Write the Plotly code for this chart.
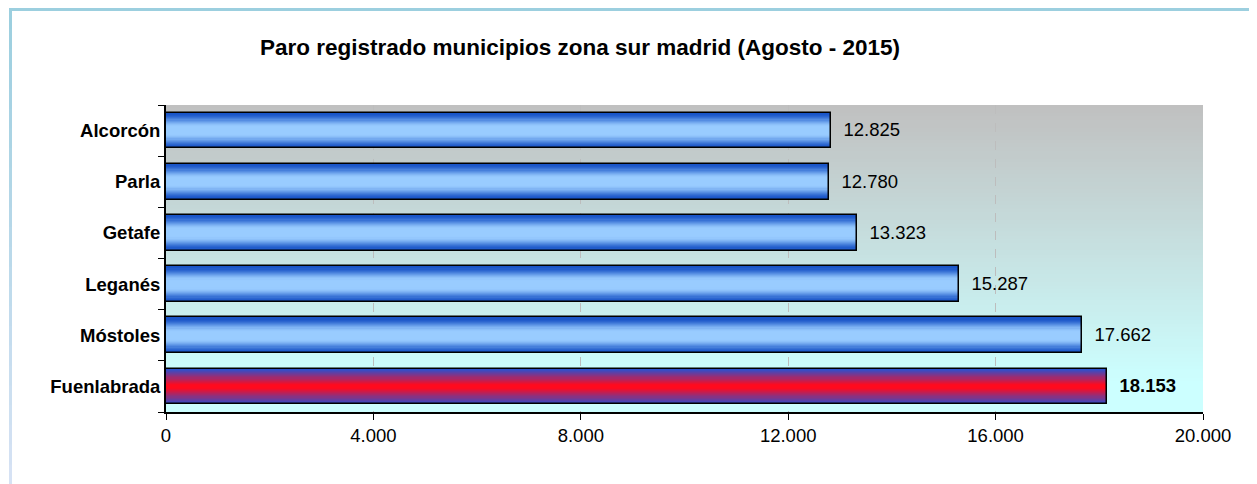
import plotly.graph_objects as go

# ---- data ----
municipios = ["Fuenlabrada", "Móstoles", "Leganés", "Getafe", "Parla", "Alcorcón"]
parados = [18153, 17662, 15287, 13323, 12780, 12825]
highlight = "Fuenlabrada"
x_ticks = [0, 4000, 8000, 12000, 16000, 20000]
titulo = "Paro registrado municipios zona sur madrid (Agosto - 2015)"

OFF = 8  # page body margin
W, H = 1257 - OFF, 484 - OFF
L, R, T, B = 166 - OFF, 1203 - OFF, 105 - OFF, 412 - OFF  # plot area (figure px)

def px_x(px):
    return (px - OFF - L) / (R - L)

def px_y(py):
    return (B - (py - OFF)) / (B - T)

def lerp(c1, c2, t):
    return "rgb(%d,%d,%d)" % tuple(round(a + (b - a) * t) for a, b in zip(c1, c2))

FONT = "Liberation Sans, Arial"
FS = 18.5

fig = go.Figure()

BAR_W = 0.70
N = 16
blue_edge, blue_mid = (25, 85, 200), (153, 204, 255)
red_edge, red_mid = (45, 80, 205), (255, 10, 30)
for k in range(N):
    t = k / (N - 1)
    sb = min(1.0, t * 1.2)
    sb = sb * sb * (3 - 2 * sb)
    sr = min(1.0, t * 1.05)
    colors = []
    for m in municipios:
        if m == highlight:
            colors.append(lerp(red_edge, red_mid, sr))
        else:
            colors.append(lerp(blue_edge, blue_mid, sb))
    fig.add_trace(go.Bar(
        y=municipios, x=parados, orientation="h",
        width=BAR_W * (1 - k / N),
        marker=dict(color=colors, line=dict(width=0)),
        hoverinfo="skip", showlegend=False,
    ))

labels = []
for m, v in zip(municipios, parados):
    s = f"{v:,}".replace(",", ".")
    labels.append("\u00a0\u00a0" + (f"<b>{s}</b>" if m == highlight else s))

fig.add_trace(go.Bar(
    y=municipios, x=parados, orientation="h", width=BAR_W,
    marker=dict(color="rgba(0,0,0,0)", line=dict(color="black", width=1.5)),
    text=labels, textposition="outside", cliponaxis=False,
    textfont=dict(family=FONT, size=FS, color="black"),
    showlegend=False,
))

shapes = []
# gradient background of plot area
NS = 80
top_c, bot_c = (192, 192, 192), (204, 255, 255)
for i in range(NS):
    t = i / (NS - 1)
    shapes.append(dict(
        type="rect", xref="paper", yref="paper", layer="below",
        x0=0, x1=1, y0=max(0, 1 - (i + 1.6) / NS), y1=1 - i / NS,
        fillcolor=lerp(top_c, bot_c, min(1, t * 1.1)), line=dict(width=0),
    ))
# outer frame: top line and fading left line
shapes.append(dict(
    type="line", xref="paper", yref="paper", layer="below",
    x0=px_x(9), x1=px_x(1300), y0=px_y(9.5), y1=px_y(9.5),
    line=dict(color="#9CCFDF", width=3),
))
NL = 24
c_top, c_bot = (156, 207, 223), (214, 226, 244)
for i in range(NL):
    ya = 9.5 + (484 - 9.5) * i / NL
    yb = 9.5 + (484 - 9.5) * (i + 1.05) / NL
    shapes.append(dict(
        type="line", xref="paper", yref="paper", layer="below",
        x0=px_x(10.5), x1=px_x(10.5), y0=px_y(ya), y1=px_y(yb),
        line=dict(color=lerp(c_top, c_bot, i / (NL - 1)), width=3),
    ))

fig.update_layout(
    width=W, height=H,
    margin=dict(l=L, r=W - R, t=T, b=H - B),
    paper_bgcolor="white", plot_bgcolor="rgba(0,0,0,0)",
    barmode="overlay", bargap=0,
    separators=",.",
    font=dict(family=FONT, size=FS, color="black"),
    title=dict(text="<b>" + titulo + "</b>", x=(580 - OFF) / W, xanchor="center",
               y=1 - (47 - OFF) / H, yanchor="middle",
               font=dict(size=22.5, family=FONT)),
    shapes=shapes,
    xaxis=dict(range=[0, 20000], tickvals=x_ticks, tickformat=",d",
               showline=True, linecolor="black", linewidth=2,
               ticks="outside", ticklen=6, tickcolor="black",
               showgrid=True, gridcolor="#BDBDBD", griddash="dash", gridwidth=1,
               zeroline=False, tickfont=dict(size=FS)),
    yaxis=dict(showline=True, linecolor="black", linewidth=2,
               ticks="outside", ticklen=6, tickcolor="black",
               tickson="boundaries", showgrid=False,
               tickfont=dict(size=FS)),
)
# bold category labels
fig.update_yaxes(ticktext=[f"<b>{m}</b>" for m in municipios], tickvals=municipios)

fig.write_html("out.html")
